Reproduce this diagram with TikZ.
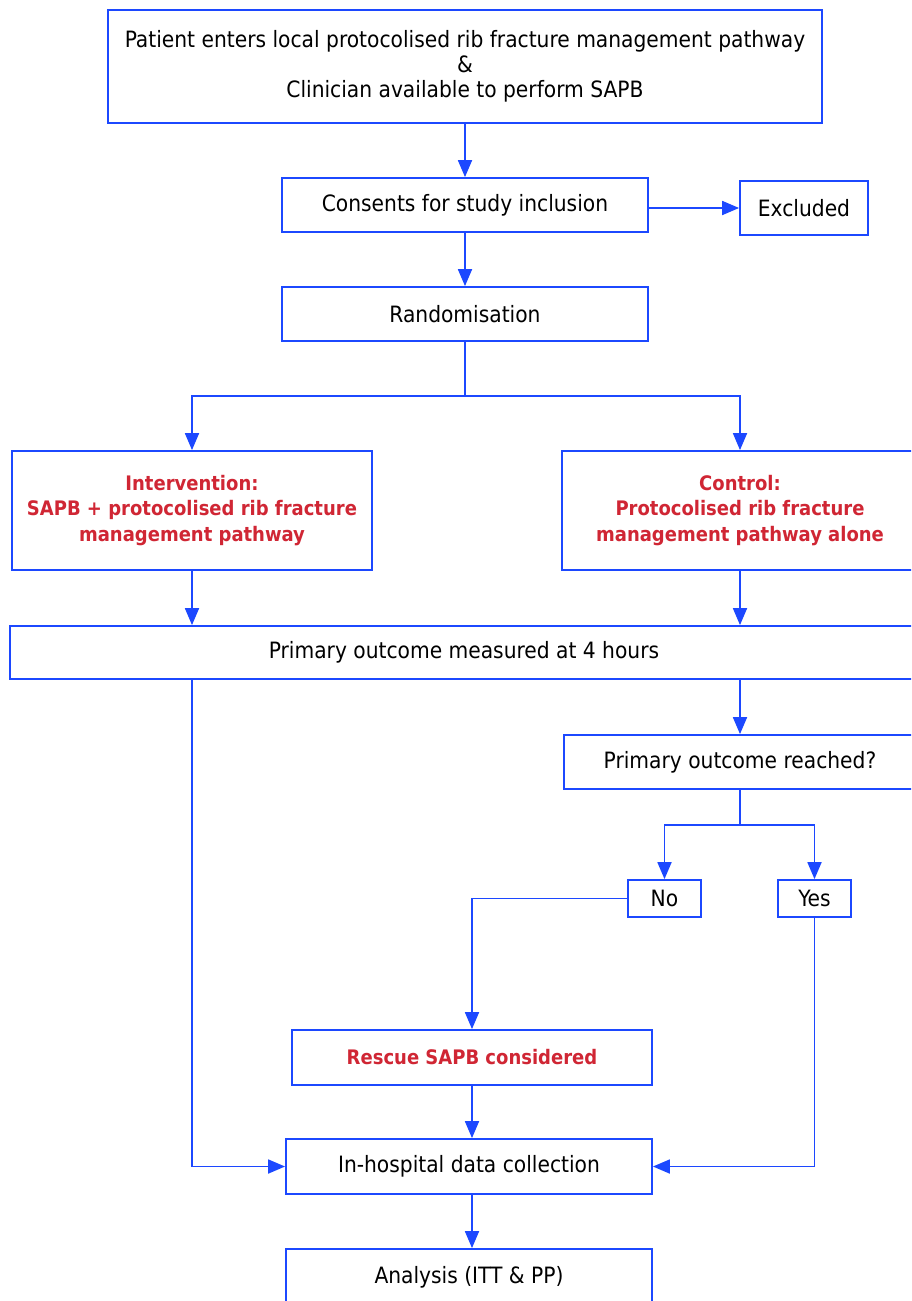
\documentclass[tikz,border=0pt]{standalone}
\usepackage{fontspec}
\setmainfont{DejaVu Sans Condensed}
\usetikzlibrary{arrows.meta}
\definecolor{flowblue}{RGB}{28,72,255}
\definecolor{armred}{RGB}{208,38,52}
\tikzset{
  box/.style={draw=flowblue,line width=1.8pt,inner sep=0pt,align=center,fill=white},
  armtext/.style={text=armred,font=\fontsize{20}{25.5}\selectfont\bfseries},
  arr/.style={flowblue,line width=1.8pt,-{Triangle[length=17pt,width=14pt]}},
  link/.style={flowblue,line width=1.8pt}
}
\begin{document}
\begin{tikzpicture}[x=1pt,y=-1pt,font=\fontsize{22.5}{25}\selectfont]
\useasboundingbox (0,0) rectangle (911,1301);
\clip (0,0) rectangle (911,1301);
% boxes
\node[box,minimum width=714pt,minimum height=113pt] (entry) at (465,66.5)
  {Patient enters local protocolised rib fracture management pathway\\ \&\\ Clinician available to perform SAPB};
\node[box,minimum width=366pt,minimum height=54pt] (consent) at (465,205) {Consents for study inclusion};
\node[box,minimum width=128pt,minimum height=54pt] (excluded) at (804,208) {Excluded};
\node[box,minimum width=366pt,minimum height=54pt] (rand) at (465,314) {Randomisation};
\node[box,armtext,minimum width=360pt,minimum height=119pt] (interv) at (192,510.5)
  {Intervention:\\ SAPB + protocolised rib fracture\\ management pathway};
\node[box,armtext,minimum width=356pt,minimum height=119pt] (control) at (740,510.5)
  {Control:\\ Protocolised rib fracture\\ management pathway alone};
\node[box,minimum width=908pt,minimum height=53pt] (primary) at (464,652.5) {Primary outcome measured at 4 hours};
\node[box,minimum width=352pt,minimum height=54pt] (reached) at (740,762) {Primary outcome reached?};
\node[box,minimum width=73pt,minimum height=37pt] (no) at (664.5,898.5) {No};
\node[box,minimum width=73pt,minimum height=37pt] (yes) at (814.5,898.5) {Yes};
\node[box,armtext,minimum width=360pt,minimum height=55pt] (rescue) at (472,1057.5) {Rescue SAPB considered};
\node[box,minimum width=366pt,minimum height=55pt] (collect) at (469,1166.5) {In-hospital data collection};
\node[box,minimum width=366pt,minimum height=56pt] (analysis) at (469,1277) {Analysis (ITT \& PP)};
% connectors
\coordinate (split) at (465,396);
\coordinate (split2) at (740,825);
\draw[arr] (entry.south) -- (consent.north);
\draw[arr] (consent.east |- excluded.west) -- (excluded.west);
\draw[arr] (consent.south) -- (rand.north);
\draw[link] (rand.south) -- (split);
\draw[arr] (split) -| (interv.north);
\draw[arr] (split) -| (control.north);
\draw[arr] (interv.south) -- (interv.south |- primary.north);
\draw[arr] (control.south) -- (control.south |- primary.north);
\draw[arr] (primary.south -| reached.north) -- (reached.north);
\draw[link] (reached.south) -- (split2);
\draw[arr] (split2) -| (no.north);
\draw[arr] (split2) -| (yes.north);
\draw[arr] (no.west) -| (rescue.north);
\draw[arr] (rescue.south) -- (rescue.south |- collect.north);
\draw[arr] (primary.south -| interv.south) |- (collect.west);
\draw[arr] (yes.south) |- (collect.east);
\draw[arr] (collect.south -| rescue.south) -- (rescue.south |- analysis.north);
\end{tikzpicture}
\end{document}
